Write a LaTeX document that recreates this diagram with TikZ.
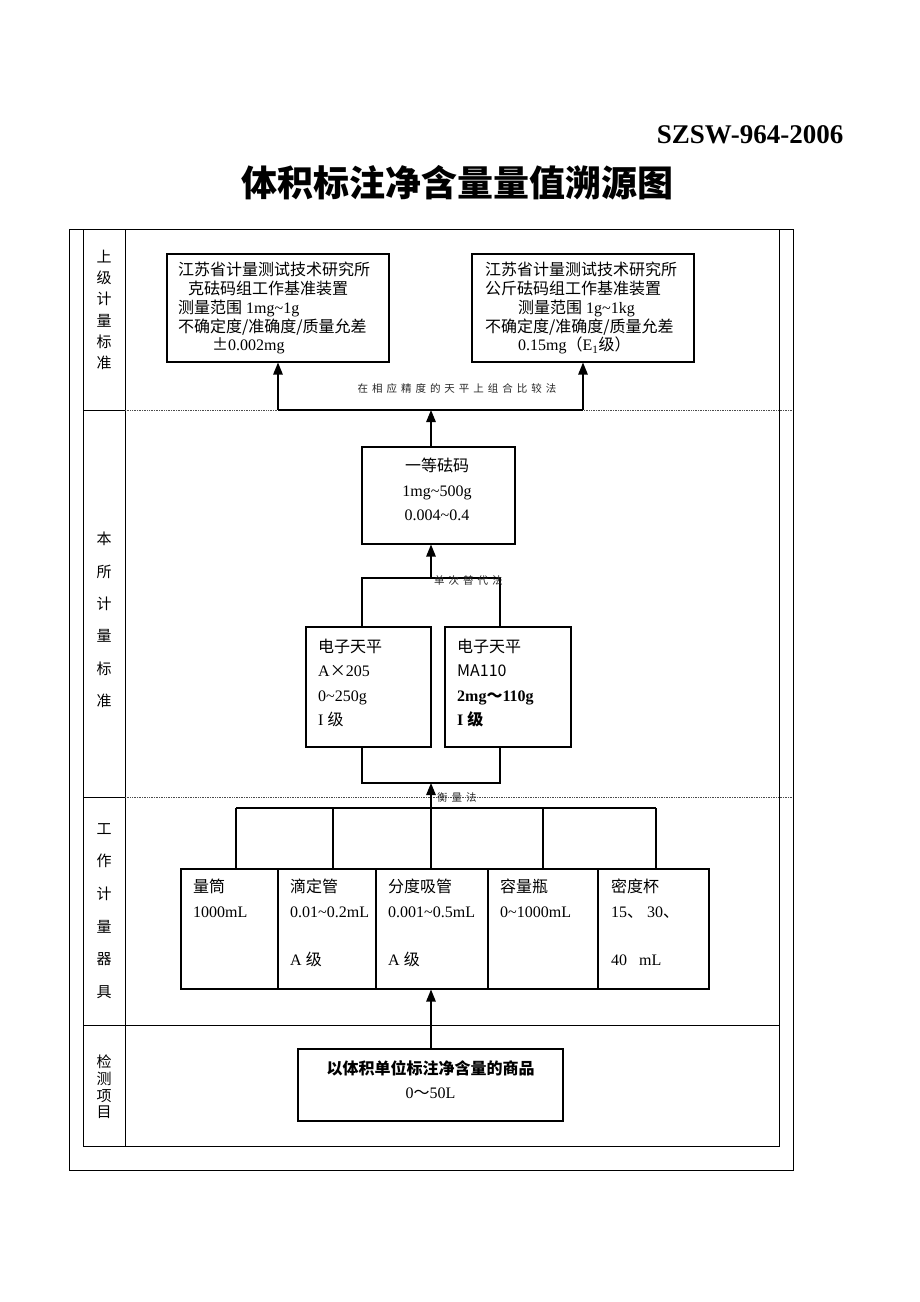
\documentclass[tikz,border=0pt]{standalone}
\usepackage{fontspec}
\setmainfont{Liberation Serif}
\newfontfamily\zhfont{Noto Sans CJK SC}
\newcommand\zh[1]{{\zhfont #1}}
\usetikzlibrary{arrows.meta}
\tikzset{
  box/.style={draw, line width=1.1pt, inner sep=0pt},
  txt/.style={inner sep=0pt, align=left, anchor=north west, font=\fontsize{16}{24.3}\selectfont},
  side/.style={inner sep=0pt, align=center, font=\fontsize{15}{#1}\selectfont\zhfont},
  way/.style={inner sep=0pt, text=black!85, font=\fontsize{10.5}{12}\selectfont\zhfont\addfontfeature{LetterSpace=38}},
  arr/.style={line width=1.3pt, -{Triangle[length=12pt,width=9.5pt]}},
  rule/.style={line width=0.8pt},
  sep/.style={densely dotted, line width=0.7pt, black!70}
}
\begin{document}
\begin{tikzpicture}[x=1pt,y=-1pt]
\useasboundingbox (0,0) rectangle (920,1302);
\node[anchor=base east, font=\fontsize{27}{30}\selectfont\bfseries] (code) at (847,143) {SZSW-964-2006};
\node[font=\fontsize{36}{40}\selectfont\bfseries\zhfont] (title) at (457,183) {体积标注净含量量值溯源图};
% table
\draw[rule] (69,229) rectangle (793,1170);
\draw[rule] (83,229) -- (83,1146) -- (779,1146) -- (779,229) (125,229) -- (125,1146) (83,1025) -- (779,1025);
\foreach \y in {410,797} {\draw[rule] (83,\y) -- (125,\y); \draw[sep] (125,\y) -- (793,\y);}
\node[side=21.2] (lab1) at (104,310) {上\\级\\计\\量\\标\\准};
\node[side=32.4] (lab2) at (104,620) {本\\所\\计\\量\\标\\准};
\node[side=32.6] (lab3) at (104,911) {工\\作\\计\\量\\器\\具};
\node[side=16.7] (lab4) at (104,1087) {检\\测\\项\\目};
% standards
\node[box, minimum width=222pt, minimum height=108pt] (gram) at (278,308) {};
\node[box, minimum width=222pt, minimum height=108pt] (kilo) at (583,308) {};
\node[txt, font=\fontsize{16}{18.8}\selectfont] (gramt) at (178,262) {\zh{江苏省计量测试技术研究所}\\\hspace*{10pt}\zh{克砝码组工作基准装置}\\\zh{测量范围} 1mg\textasciitilde1g\\\zh{不确定度/准确度/质量允差}\\\hspace*{34pt}\zh{±}0.002mg};
\node[txt, font=\fontsize{16}{18.8}\selectfont] (kilot) at (485,262) {\zh{江苏省计量测试技术研究所}\\\zh{公斤砝码组工作基准装置}\\\hspace*{33pt}\zh{测量范围} 1g\textasciitilde1kg\\\zh{不确定度/准确度/质量允差}\\\hspace*{33pt}0.15mg\zh{（}E\textsubscript{1}\zh{级）}};
\node[box, minimum width=153pt, minimum height=97pt] (wt) at (438.5,495.5) {};
\node[txt, align=center, anchor=north] (wtt) at (437,458) {\zh{一等砝码}\\1mg\textasciitilde500g\\0.004\textasciitilde0.4};
\node[box, minimum width=125pt, minimum height=120pt] (balA) at (368.5,687) {};
\node[box, minimum width=126pt, minimum height=120pt] (balB) at (508,687) {};
\node[txt] (balAt) at (318,639) {\zh{电子天平}\\A\zh{×}205\\0\textasciitilde250g\\I\ \zh{级}};
\node[txt] (balBt) at (457,639) {\zh{电子天平}\\\zh{MA110}\\\textbf{2mg\zh{～}110g}\\\textbf{I\ \zh{级}}};
% working instruments
\foreach \n/\x/\w in {lt/229.5/97, dd/327/98, fd/432/112, rl/543/110, md/653.5/111}
  \node[box, minimum width=\w pt, minimum height=120pt] (\n) at (\x,929) {};
\node[txt] (ltt) at (193,879) {\zh{量筒}\\1000mL};
\node[txt] (ddt) at (290,879) {\zh{滴定管}\\0.01\textasciitilde0.2mL\\[24.3pt]A \zh{级}};
\node[txt] (fdt) at (388,879) {\zh{分度吸管}\\0.001\textasciitilde0.5mL\\[24.3pt]A \zh{级}};
\node[txt] (rlt) at (500,879) {\zh{容量瓶}\\0\textasciitilde1000mL};
\node[txt] (mdt) at (611,879) {\zh{密度杯}\\15\zh{、}\ 30\zh{、}\\[24.3pt]40\ \ \ mL};
\node[box, minimum width=265pt, minimum height=72pt] (goods) at (430.5,1085) {};
\node[txt, align=center, anchor=north] (goodst) at (430.5,1060) {\textbf{\zh{以体积单位标注净含量的商品}}\\0\zh{～}50L};
% connectors
\coordinate (spine) at (431,0);
\coordinate (cmpL) at (278,410);
\coordinate (cmpR) at (kilo.south |- cmpL);
\draw[line width=1.2pt] (cmpL) -- (cmpR);
\draw[arr] (cmpL) -- (gram.south);
\draw[arr] (cmpR) -- (kilo.south);
\draw[arr] (wt.north -| spine) -- (cmpL -| spine);
\node[way] (cmpm) at (457,388) {在相应精度的天平上组合比较法};
\coordinate (subL) at (362,578);
\coordinate (subR) at (500,578);
\draw[line width=1.1pt] (balA.north -| subL) -- (subL) -- (subR) -- (balB.north -| subR);
\draw[arr] (subL -| spine) -- (wt.south -| spine);
\node[way, anchor=west] (subm) at (434,581) {单次替代法};
\coordinate (wgL) at (362,783);
\coordinate (wgR) at (500,783);
\draw[line width=1.1pt] (balA.south -| wgL) -- (wgL) -- (wgR) -- (balB.south -| wgR);
\foreach \n/\x in {lt/236, dd/333, fd/431, rl/543, md/656} {
  \coordinate (b\n) at (\x,808);
  \draw[line width=1.1pt] (b\n) -- (\n.north -| b\n);
}
\draw[line width=1.1pt] (blt) -- (bmd);
\draw[arr] (bfd) -- (wgL -| spine);
\node[way, anchor=west] (wgm) at (437,797) {衡量法};
\draw[arr] (goods.north -| spine) -- (fd.south -| spine);
\end{tikzpicture}
\end{document}
